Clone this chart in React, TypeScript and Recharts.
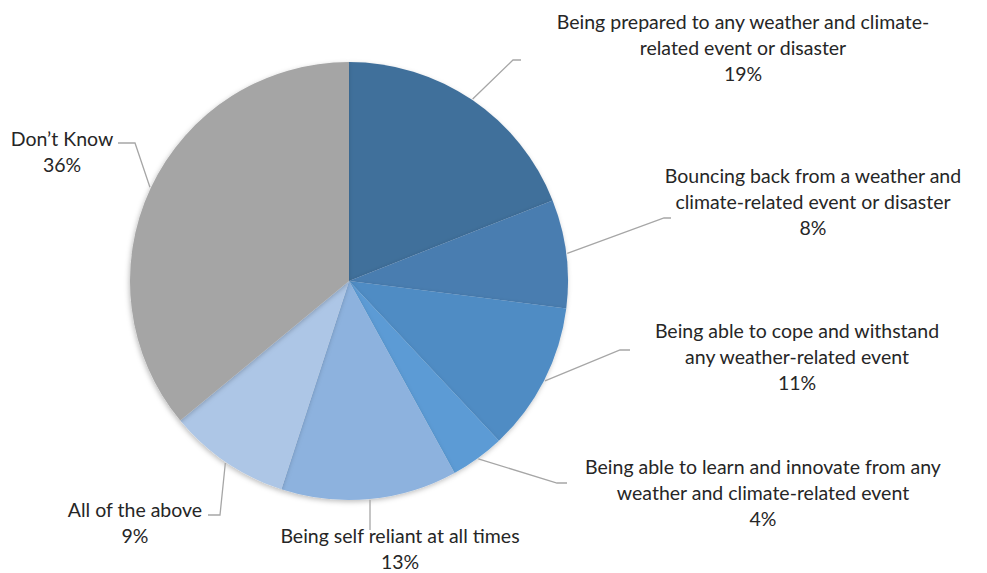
import { PieChart, Pie, Cell } from "recharts";

const NAMES = [
  "Being prepared to any weather and climate-related event or disaster",
  "Bouncing back from a weather and climate-related event or disaster",
  "Being able to cope and withstand any weather-related event",
  "Being able to learn and innovate from any weather and climate-related event",
  "Being self reliant at all times",
  "All of the above",
  "Don’t Know",
];
const VALUES = [19, 8, 11, 4, 13, 9, 36];
// how each label is broken into lines in the picture
const LABEL_LINES = [
  ["Being prepared to any weather and climate-", "related event or disaster"],
  ["Bouncing back from a weather and", "climate-related event or disaster"],
  ["Being able to cope and withstand", "any weather-related  event"],
  ["Being able to learn and innovate from any", "weather and climate-related event"],
  ["Being self reliant at all times"],
  ["All of the above"],
  ["Don’t Know"],
];
const COLORS = ["#41709b", "#4a7db0", "#508cc4", "#5b9bd5", "#8db2de", "#adc6e6", "#a5a5a5"];

// label layout: elbow of the leader, end of its short tail, text centre and first line y
const LAYOUT = [
  { ex: 513, ey: 60, tx: 521, cx: 743, y: 21 },
  { ex: 664, ey: 218, tx: 671, cx: 813, y: 175 },
  { ex: 620, ey: 350, tx: 630, cx: 797, y: 330 },
  { ex: 557, ey: 483, tx: 567, cx: 763, y: 466 },
  { ex: 370, ey: 530, tx: 370, cx: 400, y: 535 },
  { ex: 220, ey: 515, tx: 208, cx: 135, y: 509 },
  { ex: 135, ey: 143, tx: 118, cx: 62, y: 138 },
];

const data = NAMES.map((name, i) => ({ name, value: VALUES[i] }));

const RAD = Math.PI / 180;
const LINE_H = 26;

function renderLabel(p: any) {
  const { cx, cy, midAngle, outerRadius, index } = p;
  const L = LAYOUT[index];
  const sx = cx + (outerRadius + 1) * Math.cos(-midAngle * RAD);
  const sy = cy + (outerRadius + 1) * Math.sin(-midAngle * RAD);
  const lines = [...LABEL_LINES[index], `${VALUES[index]}%`];
  const x0 = index === 4 ? L.ex : sx;
  return (
    <g key={`lbl-${index}`}>
      <polyline
        points={`${x0},${index === 4 ? cy + outerRadius : sy} ${L.ex},${L.ey} ${L.tx},${L.ey}`}
        fill="none"
        stroke="#a6a6a6"
        strokeWidth={1.3}
      />
      <text
        x={L.cx}
        y={L.y}
        textAnchor="middle"
        dominantBaseline="central"
        fill="#262626"
        style={{ fontSize: 19.5, fontFamily: "Lato, 'Open Sans', sans-serif" }}
      >
        {lines.map((t, k) => (
          <tspan key={k} x={L.cx} y={L.y + k * LINE_H}>
            {t}
          </tspan>
        ))}
      </text>
    </g>
  );
}

export default function App() {
  return (
    <div style={{ position: "absolute", left: 0, top: 0, width: 987, height: 573, background: "#fff" }}>
      <PieChart width={987} height={573} margin={{ top: 0, right: 0, bottom: 0, left: 0 }}>
        <defs>
          <filter id="pieShadow" x="-10%" y="-10%" width="120%" height="120%">
            <feDropShadow dx="-1" dy="2" stdDeviation="2.5" floodColor="#000" floodOpacity="0.25" />
          </filter>
        </defs>
        <Pie
          data={data}
          dataKey="value"
          nameKey="name"
          cx={349}
          cy={281}
          outerRadius={219}
          startAngle={90}
          endAngle={-270}
          stroke="none"
          label={renderLabel}
          labelLine={false}
          isAnimationActive={false}
          style={{ filter: "url(#pieShadow)" }}
        >
          {data.map((d, i) => (
            <Cell key={d.name} fill={COLORS[i]} />
          ))}
        </Pie>
      </PieChart>
    </div>
  );
}
